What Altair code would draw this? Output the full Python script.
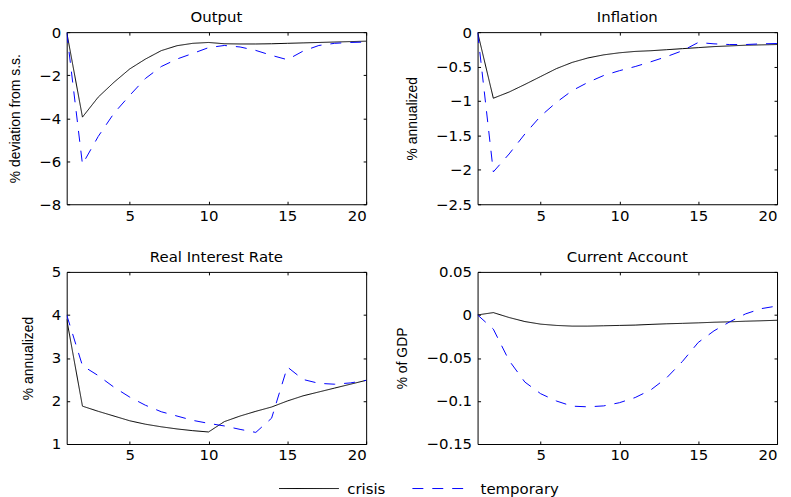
import altair as alt
import pandas as pd

periods = list(range(1, 21))
series_names = ["crisis", "temporary"]
x_ticks = [5, 10, 15, 20]

output_crisis = [0, -3.95, -3.02, -2.33, -1.71, -1.25, -0.86, -0.63, -0.52, -0.48,
                 -0.54, -0.55, -0.55, -0.54, -0.52, -0.5, -0.48, -0.46, -0.44, -0.42]
output_temp = [0, -6.14, -4.85, -3.77, -2.94, -2.15, -1.6, -1.25, -0.99, -0.72,
               -0.62, -0.69, -0.85, -1.08, -1.28, -0.88, -0.62, -0.52, -0.48, -0.46]

infl_crisis = [0, -0.96, -0.87, -0.76, -0.645, -0.53, -0.44, -0.375, -0.33, -0.30,
               -0.28, -0.27, -0.255, -0.24, -0.225, -0.21, -0.2, -0.19, -0.185, -0.18]
infl_temp = [0, -2.03, -1.77, -1.48, -1.22, -1.02, -0.85, -0.73, -0.63, -0.56,
             -0.5, -0.43, -0.355, -0.27, -0.15, -0.17, -0.18, -0.18, -0.17, -0.165]

rate_crisis = [3.9, 1.88, 1.76, 1.65, 1.54, 1.46, 1.40, 1.35, 1.31, 1.28,
               1.52, 1.65, 1.76, 1.86, 2.0, 2.12, 2.21, 2.3, 2.39, 2.48]
rate_temp = [4.0, 2.82, 2.59, 2.32, 2.09, 1.9, 1.75, 1.65, 1.55, 1.48,
             1.42, 1.34, 1.27, 1.6, 2.79, 2.5, 2.41, 2.39, 2.42, 2.48]

ca_crisis = [0, 0.0027, -0.003, -0.0077, -0.0107, -0.0122, -0.013, -0.013, -0.0126, -0.0122,
             -0.0118, -0.011, -0.0103, -0.0098, -0.0092, -0.0085, -0.008, -0.0073, -0.0068, -0.0062]
ca_temp = [0, -0.0165, -0.053, -0.078, -0.0915, -0.1, -0.106, -0.1068, -0.1057, -0.102,
           -0.096, -0.087, -0.073, -0.054, -0.032, -0.0185, -0.008, 0.0012, 0.0073, 0.0104]

LBL_FONT = "DejaVu Sans"
TTL_FONT = "Liberation Sans"
TICK = 3

legend = alt.Legend(
    title=None, orient="none", legendX=253, legendY=448, direction="horizontal",
    symbolType="M-5,0H1", symbolSize=400, symbolStrokeWidth=1,
    labelFont=LBL_FONT, labelFontSize=15, labelColor="black",
    labelOffset=8, columnPadding=24,
)


def panel(title, ytitle, crisis, temp, ydomain, yticks):
    df = pd.DataFrame({
        "t": periods * 2,
        "v": crisis + temp,
        "s": ["crisis"] * len(periods) + ["temporary"] * len(periods),
    })
    xs = alt.Scale(domain=[1, 20], nice=False, zero=False)
    ys = alt.Scale(domain=ydomain, nice=False, zero=False)
    base = alt.Chart(df)
    lines = base.mark_line(strokeWidth=1, clip=True).encode(
        x=alt.X("t:Q", scale=xs, axis=alt.Axis(
            values=x_ticks, orient="bottom", title=None, offset=-TICK, tickSize=TICK,
            domain=False, grid=False, labelPadding=4)),
        y=alt.Y("v:Q", scale=ys, axis=alt.Axis(
            values=yticks, orient="left", title=ytitle, format=".3~g", offset=-TICK,
            tickSize=TICK, domain=False, grid=False, labelPadding=6, titlePadding=16)),
        color=alt.Color("s:N", scale=alt.Scale(domain=series_names, range=["#000000", "#0000ff"]),
                        legend=legend),
        strokeDash=alt.StrokeDash("s:N", scale=alt.Scale(domain=series_names, range=[[1, 0], [11, 9]]),
                                  legend=legend),
    )
    ghost = base.mark_line(strokeOpacity=0).encode(
        x=alt.X("t:Q", scale=xs, axis=alt.Axis(
            values=x_ticks, orient="top", labels=False, title=None, offset=-TICK,
            tickSize=TICK, domain=False, grid=False)),
        y=alt.Y("v:Q", scale=ys, axis=alt.Axis(
            values=yticks, orient="right", labels=False, title=None, offset=-TICK,
            tickSize=TICK, domain=False, grid=False)),
        detail="s:N",
    )
    return alt.layer(lines, ghost).resolve_axis(x="independent", y="independent").properties(
        width=301, height=173,
        title=alt.Title(title, font=LBL_FONT, fontSize=15, fontWeight="normal", color="black", offset=0),
    )


p1 = panel("Output", "% deviation from s.s.", output_crisis, output_temp, [-8, 0], [-8, -6, -4, -2, 0])
p2 = panel("Inflation", "% annualized", infl_crisis, infl_temp, [-2.5, 0], [-2.5, -2, -1.5, -1, -0.5, 0])
p3 = panel("Real Interest Rate", "% annualized", rate_crisis, rate_temp, [1, 5], [1, 2, 3, 4, 5])
p4 = panel("Current Account", "% of GDP", ca_crisis, ca_temp, [-0.15, 0.05], [-0.15, -0.1, -0.05, 0, 0.05])

chart = alt.concat(p1, p2, p3, p4, columns=2, spacing={"row": 25, "column": 28}).properties(
    padding={"left": 0, "top": 0, "right": 5, "bottom": 0},
    background="white",
).configure_view(stroke="black", strokeWidth=1).configure_axis(
    labelFont=LBL_FONT, labelFontSize=15, labelColor="black",
    titleFont=TTL_FONT, titleFontSize=14, titleFontWeight="normal", titleColor="black",
    tickColor="black", tickWidth=1,
)

chart.save("out.html", embed_options={"renderer": "svg", "actions": False})
